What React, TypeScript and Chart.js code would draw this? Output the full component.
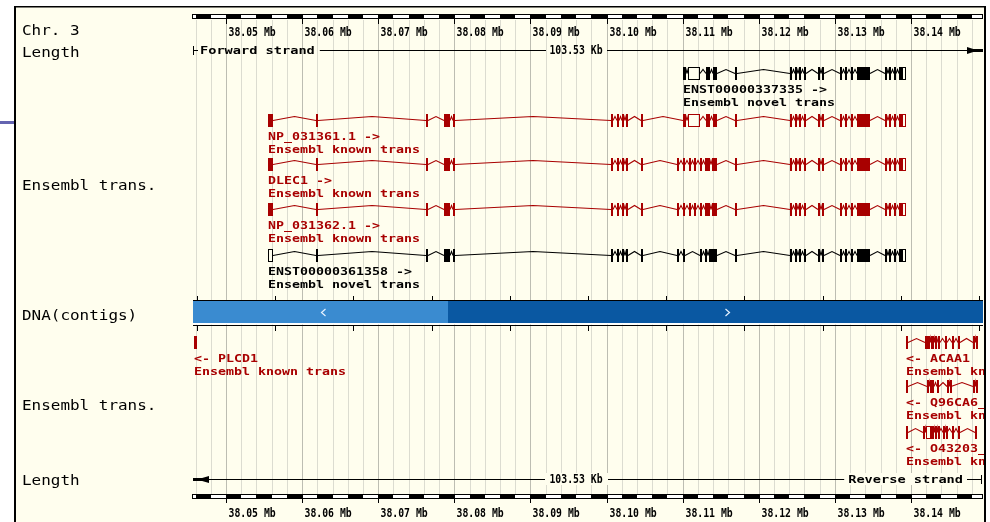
import React, { useEffect, useRef } from "react";
import { Chart, registerables } from "chart.js";
Chart.register(...registerables);

// ---------------- DATA ----------------
const REGION_START = 38045664;
const REGION_END = 38149460;
const REGION_LENGTH_LABEL = "103.53 Kb";
const GRID_STEP_BP = 2000;
const MAJOR_STEP_BP = 10000;

const RULER_TICKS = [38050000, 38060000, 38070000, 38080000, 38090000, 38100000, 38110000, 38120000, 38130000, 38140000];
const RULER_LABELS = ["38.05 Mb", "38.06 Mb", "38.07 Mb", "38.08 Mb", "38.09 Mb", "38.10 Mb", "38.11 Mb", "38.12 Mb", "38.13 Mb", "38.14 Mb"];

const TRACK_LABELS = ["Chr. 3", "Length", "Ensembl trans.", "DNA(contigs)", "Ensembl trans.", "Length"];
const STRAND_LABELS = ["Forward strand", "Reverse strand"];

const CONTIG_SPLIT = 38079168;
const CONTIG_TICKS = [38046190, 38056464, 38066739, 38077014, 38087288, 38097563, 38107838, 38118112, 38128387, 38138662, 38148937];
const CONTIG_ARROW_POS = [38062745, 38115826];
const CONTIG_ARROW_DIR = [-1, 1];

type Exon = [number, number, number]; // start, end, coding(1) / non-coding(0)

const EXONS_5P: Exon[] = [
  [38061825, 38062088, 1], [38076278, 38076475, 1], [38078643, 38079431, 1], [38079825, 38080088, 1],
  [38100585, 38100782, 1], [38101373, 38101636, 1], [38102030, 38102227, 1], [38102556, 38102819, 1],
  [38104527, 38104724, 1],
];
const EXONS_MID_A: Exon[] = [
  [38110045, 38110439, 1], [38110702, 38112279, 0], [38113067, 38113593, 1], [38113987, 38114512, 1],
  [38116877, 38117074, 1],
];
const EXONS_MID_B: Exon[] = [
  [38109257, 38109454, 1], [38110045, 38110307, 1], [38110833, 38111096, 1], [38111490, 38111753, 1],
  [38112279, 38112541, 1], [38112936, 38113593, 1], [38113855, 38114512, 1], [38116877, 38117074, 1],
];
const EXONS_MID_C: Exon[] = [
  [38109257, 38109454, 1], [38110045, 38110307, 1], [38112279, 38112541, 1], [38112936, 38113199, 1],
  [38113462, 38114512, 1], [38116877, 38117074, 1],
];
const EXONS_3P: Exon[] = [
  [38124104, 38124301, 1], [38124760, 38125024, 1], [38125286, 38125549, 1], [38125943, 38126206, 1],
  [38127783, 38127980, 1], [38128308, 38128571, 1], [38130673, 38130936, 1], [38131330, 38131593, 1],
  [38132118, 38132316, 1], [38132907, 38134615, 1], [38136586, 38136783, 1], [38137111, 38137374, 1],
  [38137768, 38138031, 1], [38138425, 38138754, 1], [38138754, 38139345, 0],
];

const ENST337335_EXONS: Exon[] = [...EXONS_MID_A, ...EXONS_3P];
const NP031361_EXONS: Exon[] = [[38055518, 38056175, 1], ...EXONS_5P, ...EXONS_MID_A, ...EXONS_3P];
const DLEC1_EXONS: Exon[] = [[38055518, 38056175, 1], ...EXONS_5P, ...EXONS_MID_B, ...EXONS_3P];
const NP031362_EXONS: Exon[] = [[38055518, 38056175, 1], ...EXONS_5P, ...EXONS_MID_B, ...EXONS_3P];
const ENST361358_EXONS: Exon[] = [[38055518, 38056175, 0], ...EXONS_5P, ...EXONS_MID_C, ...EXONS_3P];

const PLCD1_EXONS: Exon[] = [[38045795, 38046255, 1]];
const ACAA1_EXONS: Exon[] = [
  [38139345, 38139542, 1], [38141841, 38142170, 1], [38142236, 38142498, 1], [38142630, 38142958, 1],
  [38143155, 38143287, 1], [38143549, 38143747, 1], [38144469, 38144732, 1], [38145389, 38145586, 1],
  [38146177, 38146440, 1], [38148148, 38148345, 1], [38148542, 38148739, 1],
];
const Q96CA6_EXONS: Exon[] = [
  [38139345, 38139542, 1], [38142104, 38142367, 1], [38142498, 38142958, 1], [38143418, 38143615, 1],
  [38144732, 38144929, 1], [38145061, 38145257, 1], [38148148, 38148345, 1], [38148542, 38148739, 1],
];
const O43203_EXONS: Exon[] = [
  [38139345, 38139542, 1], [38141579, 38141776, 1], [38141907, 38142564, 0], [38142630, 38142958, 1],
  [38143155, 38143352, 1], [38143549, 38143681, 1], [38144207, 38144404, 1], [38144601, 38144732, 1],
  [38145389, 38145586, 1], [38146177, 38146374, 1], [38148411, 38148608, 1],
];

const TOP_NAMES = ["ENST00000337335 ->", "NP_031361.1 ->", "DLEC1 ->", "NP_031362.1 ->", "ENST00000361358 ->"];
const TOP_TYPES = ["Ensembl novel trans", "Ensembl known trans", "Ensembl known trans", "Ensembl known trans", "Ensembl novel trans"];
const TOP_KNOWN = [false, true, true, true, false];
const TOP_EXONS = [ENST337335_EXONS, NP031361_EXONS, DLEC1_EXONS, NP031362_EXONS, ENST361358_EXONS];

const BOTTOM_NAMES = ["<- PLCD1", "<- ACAA1", "<- Q96CA6_HUMAN", "<- O43203_HUMAN"];
const BOTTOM_TYPES = ["Ensembl known trans", "Ensembl known trans", "Ensembl known trans", "Ensembl known trans"];
const BOTTOM_KNOWN = [true, true, true, true];
const BOTTOM_EXONS = [PLCD1_EXONS, ACAA1_EXONS, Q96CA6_EXONS, O43203_EXONS];

// ---------------- LAYOUT & STYLE ----------------
const L = {
  W: 990, H: 522, left: 193, right: 983,
  frameL: 14, frameR: 984, frameT: 6,
  trackLabelX: 22,
  trackLabelY: [30, 52, 185, 315, 405, 480],
  topBarY: 14, botBarY: 494,
  topLabelY: 32, botLabelY: 513,
  gridTop: 20, gridBot: 494,
  fwdY: 50, revY: 479, lenCenterX: 576,
  contigTop: 300, contigBot: 326,
  topRows: [73, 120, 164, 209, 255],
  botRows: [342, 342, 386, 432],
  nameOff: 16, typeOff: 28.5,
};
const C = {
  bg: "#fffeee", known: "#a80000", novel: "#000000",
  gridMinor: "#dcdcd0", gridMajor: "#bdbdb2",
  contigA: "#3a8bd0", contigB: "#0a58a2", stub: "#6464b0",
};
const FONT = '"DejaVu Sans Mono", monospace';

function drawText(ctx: CanvasRenderingContext2D, text: string, x: number, capY: number, px: number, charW: number, color: string, align = "left", weight = "normal") {
  ctx.save();
  ctx.font = `${weight} ${px}px ${FONT}`;
  const nat = ctx.measureText("0").width;
  const sx = charW / nat;
  const w = text.length * charW;
  const x0 = align === "center" ? x - w / 2 : align === "right" ? x - w : x;
  ctx.translate(x0, capY + (px * 0.729) / 2);
  ctx.scale(sx, 1);
  ctx.fillStyle = color;
  ctx.textAlign = "left";
  ctx.textBaseline = "alphabetic";
  ctx.fillText(text, 0, 0);
  ctx.restore();
}

const genomePlugin = {
  id: "genome",
  afterDraw(chart: any) {
    const ctx: CanvasRenderingContext2D = chart.ctx;
    const xs = chart.scales.x;
    const ys = chart.scales.y;
    const px = (bp: number) => xs.getPixelForValue(bp);
    const py = (v: number) => ys.getPixelForValue(v);
    const left = chart.chartArea.left;
    const right = chart.chartArea.right;

    ctx.save();
    ctx.fillStyle = "#ffffff";
    ctx.fillRect(0, 0, L.W, L.H);
    ctx.fillStyle = C.bg;
    ctx.fillRect(L.frameL, L.frameT, L.frameR - L.frameL, L.H - L.frameT);
    ctx.fillStyle = C.stub;
    ctx.fillRect(0, 121, L.frameL, 3);
    ctx.fillStyle = "#000";
    ctx.fillRect(L.frameL, L.frameT, L.frameR + 2 - L.frameL, 1.5);
    ctx.fillRect(L.frameL, L.frameT, 2, L.H);
    ctx.fillRect(L.frameR, L.frameT, 2, L.H);

    // grid lines
    for (let b = Math.ceil(REGION_START / GRID_STEP_BP) * GRID_STEP_BP; b <= REGION_END; b += GRID_STEP_BP) {
      const x = Math.round(px(b)) + 0.5;
      ctx.strokeStyle = b % MAJOR_STEP_BP === 0 ? C.gridMajor : C.gridMinor;
      ctx.lineWidth = 1;
      ctx.beginPath();
      ctx.moveTo(x, py(L.gridTop));
      ctx.lineTo(x, py(L.gridBot));
      ctx.stroke();
    }

    // rulers
    const drawRulerBar = (y: number) => {
      ctx.fillStyle = "#000";
      ctx.fillRect(left - 1, py(y), right - left + 1, 5);
      for (let b = Math.floor(REGION_START / GRID_STEP_BP) * GRID_STEP_BP; b < REGION_END; b += GRID_STEP_BP) {
        const idx = Math.round(b / GRID_STEP_BP);
        if (idx % 2 === 1) continue;
        const x0 = Math.max(left, Math.round(px(b)));
        const x1 = Math.min(right - 1, Math.round(px(b + GRID_STEP_BP)));
        if (x1 > x0) {
          ctx.fillStyle = "#fff";
          ctx.fillRect(x0, py(y) + 1, x1 - x0, 3);
        }
      }
    };
    drawRulerBar(L.topBarY);
    drawRulerBar(L.botBarY);
    ctx.strokeStyle = "#000";
    ctx.lineWidth = 1;
    RULER_TICKS.forEach((t, i) => {
      const x = Math.round(px(t)) + 0.5;
      ctx.beginPath();
      ctx.moveTo(x, py(L.topBarY));
      ctx.lineTo(x, py(L.topBarY + 10));
      ctx.moveTo(x, py(L.botBarY));
      ctx.lineTo(x, py(L.botBarY + 9));
      ctx.stroke();
      drawText(ctx, RULER_LABELS[i], x + 2, py(L.topLabelY), 12, 5.9, "#000", "left", "bold");
      drawText(ctx, RULER_LABELS[i], x + 2, py(L.botLabelY), 12, 5.9, "#000", "left", "bold");
    });

    // strand lines
    const hline = (x0: number, x1: number, y: number) => {
      ctx.beginPath();
      ctx.moveTo(x0, Math.round(y) + 0.5);
      ctx.lineTo(x1, Math.round(y) + 0.5);
      ctx.stroke();
    };
    const fy = py(L.fwdY);
    const ry = py(L.revY);
    ctx.strokeStyle = "#000";
    ctx.beginPath();
    ctx.moveTo(left + 0.5, fy - 4);
    ctx.lineTo(left + 0.5, fy + 5);
    ctx.stroke();
    hline(left, left + 5, fy);
    drawText(ctx, STRAND_LABELS[0], left + 7, fy, 11, 8.2, "#000", "left", "bold");
    hline(left + 7 + 14 * 8.2 + 5, L.lenCenterX - 30, fy);
    drawText(ctx, REGION_LENGTH_LABEL, L.lenCenterX, fy, 12, 5.9, "#000", "center", "bold");
    hline(L.lenCenterX + 31, right, fy);
    ctx.fillStyle = "#000";
    ctx.beginPath();
    ctx.moveTo(right - 16, fy - 3);
    ctx.lineTo(right - 5, fy + 0.5);
    ctx.lineTo(right - 16, fy + 4);
    ctx.closePath();
    ctx.fill();
    ctx.fillRect(right - 16, fy - 1, 16, 3);

    // reverse strand
    hline(left, right - 1, ry);
    ctx.fillStyle = C.bg;
    ctx.fillRect(L.lenCenterX - 31, ry - 6, 63, 12);
    ctx.fillRect(right - 20 - 14 * 8.2 - 4, ry - 6, 14 * 8.2 + 8, 12);
    drawText(ctx, REGION_LENGTH_LABEL, L.lenCenterX, ry, 12, 5.9, "#000", "center", "bold");
    drawText(ctx, STRAND_LABELS[1], right - 20, ry, 11, 8.2, "#000", "right", "bold");
    ctx.fillStyle = "#000";
    ctx.beginPath();
    ctx.moveTo(left + 4, ry + 0.5);
    ctx.lineTo(left + 16, ry - 3);
    ctx.lineTo(left + 16, ry + 4);
    ctx.closePath();
    ctx.fill();
    ctx.fillRect(left, ry - 1, 16, 3);
    ctx.beginPath();
    ctx.moveTo(right - 1.5, ry - 4);
    ctx.lineTo(right - 1.5, ry + 5);
    ctx.stroke();

    // contig
    const ct = py(L.contigTop);
    const cb = py(L.contigBot);
    const xs0 = Math.round(px(CONTIG_SPLIT));
    ctx.fillStyle = "#000";
    ctx.fillRect(left, ct, right - left, 1);
    ctx.fillRect(left, cb - 1, right - left, 1);
    ctx.fillStyle = C.contigA;
    ctx.fillRect(left, ct + 1, xs0 - left, cb - ct - 4);
    ctx.fillStyle = C.contigB;
    ctx.fillRect(xs0, ct + 1, right - xs0, cb - ct - 4);
    ctx.fillStyle = "#fff";
    ctx.fillRect(left, cb - 3, right - left, 1.5);
    ctx.strokeStyle = "#000";
    CONTIG_TICKS.forEach((t) => {
      const x = Math.round(px(t)) + 0.5;
      ctx.beginPath();
      ctx.moveTo(x, ct - 4);
      ctx.lineTo(x, ct);
      ctx.moveTo(x, cb);
      ctx.lineTo(x, cb + 5);
      ctx.stroke();
    });
    ctx.strokeStyle = "#e6f2ff";
    ctx.lineWidth = 1.2;
    CONTIG_ARROW_POS.forEach((p, i) => {
      const x = Math.round(px(p)) + 0.5;
      const ym = (ct + cb) / 2 - 0.5;
      const d = CONTIG_ARROW_DIR[i];
      ctx.beginPath();
      ctx.moveTo(x - 2 * d, ym - 3.5);
      ctx.lineTo(x + 2 * d, ym);
      ctx.lineTo(x - 2 * d, ym + 3.5);
      ctx.stroke();
    });
    ctx.lineWidth = 1;

    // transcripts
    const drawTranscript = (exons: Exon[], rowY: number, color: string, name: string, type: string) => {
      const yc = Math.round(py(rowY));
      ctx.strokeStyle = color;
      ctx.fillStyle = color;
      ctx.lineWidth = 1.1;
      for (let i = 0; i < exons.length - 1; i++) {
        const a = Math.round(px(exons[i][1]));
        const b = Math.round(px(exons[i + 1][0]));
        if (b - a < 1) continue;
        const mid = (a + b) / 2;
        ctx.beginPath();
        ctx.moveTo(a, yc + 0.5);
        ctx.lineTo(mid, yc - 3.5);
        ctx.lineTo(b, yc + 0.5);
        ctx.stroke();
      }
      ctx.lineWidth = 1;
      exons.forEach(([s, e, k]) => {
        const x0 = Math.round(px(s));
        const x1 = Math.round(px(e));
        const w = Math.max(1, x1 - x0);
        if (k === 1) ctx.fillRect(x0, yc - 6, Math.max(w, 2), 13);
        else ctx.strokeRect(x0 + 0.5, yc - 5.5, Math.max(1, w - 1), 12);
      });
      const lx = Math.round(px(exons[0][0]));
      drawText(ctx, name, lx, yc + L.nameOff, 11, 8, color, "left", "bold");
      drawText(ctx, type, lx, yc + L.typeOff, 11, 8, color, "left", "bold");
    };

    ctx.save();
    ctx.beginPath();
    ctx.rect(L.frameL + 2, L.frameT, L.frameR - L.frameL - 2, L.H);
    ctx.clip();
    TOP_EXONS.forEach((ex, i) => drawTranscript(ex, L.topRows[i], TOP_KNOWN[i] ? C.known : C.novel, TOP_NAMES[i], TOP_TYPES[i]));
    BOTTOM_EXONS.forEach((ex, i) => drawTranscript(ex, L.botRows[i], BOTTOM_KNOWN[i] ? C.known : C.novel, BOTTOM_NAMES[i], BOTTOM_TYPES[i]));
    ctx.restore();

    // track labels
    TRACK_LABELS.forEach((t, i) => drawText(ctx, t, L.trackLabelX, py(L.trackLabelY[i]), 14.5, 9.6, "#000"));
    ctx.restore();
  },
};

export default function App() {
  const ref = useRef<HTMLCanvasElement>(null);
  useEffect(() => {
    document.body.style.margin = "0";
    const canvas = ref.current!;
    const chart = new Chart(canvas, {
      type: "scatter",
      data: { datasets: [{ data: [] }] },
      options: {
        animation: false,
        responsive: false,
        devicePixelRatio: 1,
        layout: { padding: { left: L.left, right: L.W - L.right, top: 0, bottom: 0 } },
        plugins: { legend: { display: false }, tooltip: { enabled: false } },
        scales: {
          x: { type: "linear", min: REGION_START, max: REGION_END, display: false },
          y: { type: "linear", min: 0, max: L.H, reverse: true, display: false },
        },
      },
      plugins: [genomePlugin],
    } as any);
    return () => chart.destroy();
  }, []);
  return <canvas ref={ref} width={990} height={522} style={{ display: "block" }} />;
}
